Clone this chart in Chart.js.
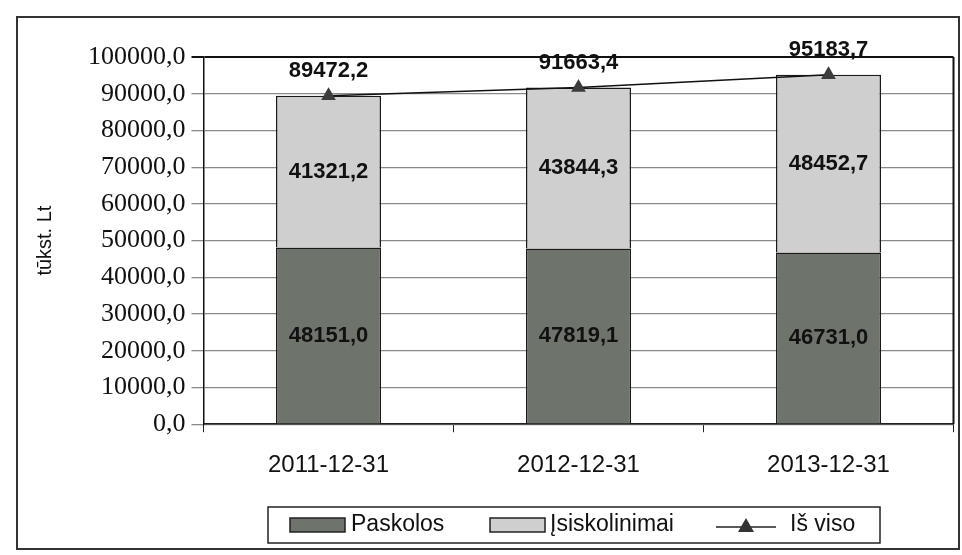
<!DOCTYPE html>
<html>
<head>
<meta charset="utf-8">
<script src="https://cdn.jsdelivr.net/npm/chart.js@4.4.0/dist/chart.umd.min.js"></script>
<style>
  html, body { margin: 0; padding: 0; background: #fff; }
  #frame {
    position: absolute; left: 16px; top: 16px;
    width: 940px; height: 530px;
    border: 2px solid #333;
  }
  #wrap { position: absolute; left: -18px; top: -18px; width: 962px; height: 555px; }
</style>
</head>
<body>
<div id="frame"><div id="wrap"><canvas id="myChart"></canvas></div></div>
<script>
// duomenys
const categories = ["2011-12-31", "2012-12-31", "2013-12-31"];
const paskolos = [48151.0, 47819.1, 46731.0];
const isiskolinimai = [41321.2, 43844.3, 48452.7];
const isViso = [89472.2, 91663.4, 95183.7];
const yTicks = [0, 10000, 20000, 30000, 40000, 50000, 60000, 70000, 80000, 90000, 100000];

const fmt = (v) => v.toFixed(1).replace(".", ",");

// reikšmių etiketės ant stulpelių ir virš taškų
const valueLabels = {
  id: "valueLabels",
  afterDatasetsDraw(chart) {
    const ctx = chart.ctx;
    ctx.save();
    ctx.font = "bold 22px 'Liberation Sans', Arial, sans-serif";
    ctx.fillStyle = "#111";
    ctx.textAlign = "center";
    ctx.textBaseline = "middle";
    chart.data.datasets.forEach((ds, i) => {
      const meta = chart.getDatasetMeta(i);
      meta.data.forEach((el, j) => {
        if (ds.type === "line") {
          ctx.fillText(fmt(ds.data[j]), el.x, el.y - 25);
        } else {
          ctx.fillText(fmt(ds.data[j]), el.x, (el.y + el.base) / 2);
        }
      });
    });
    ctx.restore();
  },
};

// dešinysis braižymo srities kraštas
const areaBorder = {
  id: "areaBorder",
  beforeDatasetsDraw(chart) {
    const { ctx, chartArea } = chart;
    ctx.save();
    ctx.strokeStyle = "#111";
    ctx.lineWidth = 2;
    ctx.beginPath();
    ctx.moveTo(chartArea.right, chartArea.top);
    ctx.lineTo(chartArea.right, chartArea.bottom);
    ctx.stroke();
    ctx.restore();
  },
};

// legenda su rėmeliu apačioje
const boxLegend = {
  id: "boxLegend",
  afterDraw(chart) {
    const ctx = chart.ctx;
    const x0 = 268, y0 = 507, w = 612, h = 36;
    ctx.save();
    ctx.strokeStyle = "#222";
    ctx.lineWidth = 1.5;
    ctx.strokeRect(x0, y0, w, h);
    ctx.font = "23px 'Liberation Sans', Arial, sans-serif";
    ctx.textBaseline = "middle";
    ctx.fillStyle = "#111";
    const cy = y0 + h / 2;
    // Paskolos
    ctx.fillStyle = "#6e736c";
    ctx.fillRect(290, cy - 7, 55, 14);
    ctx.strokeRect(290, cy - 7, 55, 14);
    ctx.fillStyle = "#111";
    ctx.fillText("Paskolos", 351, cy);
    // Įsiskolinimai
    ctx.fillStyle = "#cfcfcf";
    ctx.fillRect(490, cy - 7, 55, 14);
    ctx.strokeRect(490, cy - 7, 55, 14);
    ctx.fillStyle = "#111";
    ctx.fillText("Įsiskolinimai", 550, cy);
    // Iš viso
    ctx.beginPath();
    ctx.moveTo(716, cy + 2);
    ctx.lineTo(776, cy + 2);
    ctx.stroke();
    ctx.fillStyle = "#333";
    ctx.beginPath();
    ctx.moveTo(746, cy - 7);
    ctx.lineTo(754, cy + 7);
    ctx.lineTo(738, cy + 7);
    ctx.closePath();
    ctx.fill();
    ctx.fillStyle = "#111";
    ctx.fillText("Iš viso", 790, cy);
    ctx.restore();
  },
};

const ctx = document.querySelector("#myChart").getContext("2d");
const myChart = new Chart(ctx, {
  data: {
    labels: categories,
    datasets: [
      {
        type: "line",
        label: "Iš viso",
        data: isViso,
        stack: "total",
        borderColor: "#111",
        borderWidth: 1.5,
        pointStyle: "triangle",
        pointRadius: 7,
        pointBackgroundColor: "#3d3d3d",
        pointBorderColor: "#3d3d3d",
        order: 0,
      },
      {
        type: "bar",
        label: "Paskolos",
        data: paskolos,
        stack: "bars",
        backgroundColor: "#6e736c",
        borderColor: "#1a1a1a",
        borderWidth: 1.5,
        categoryPercentage: 1,
        barPercentage: 0.42,
        order: 1,
      },
      {
        type: "bar",
        label: "Įsiskolinimai",
        data: isiskolinimai,
        stack: "bars",
        backgroundColor: "#cfcfcf",
        borderColor: "#1a1a1a",
        borderWidth: 1.5,
        categoryPercentage: 1,
        barPercentage: 0.42,
        order: 1,
      },
    ],
  },
  options: {
    responsive: true,
    maintainAspectRatio: false,
    animation: false,
    layout: { padding: { left: 33, right: 8, top: 57, bottom: 56 } },
    plugins: {
      legend: { display: false },
      tooltip: { enabled: false },
    },
    scales: {
      x: {
        stacked: true,
        grid: { display: true, drawOnChartArea: false, color: "#222", tickLength: 8, offset: true },
        border: { color: "#222", width: 1.5 },
        ticks: {
          color: "#111",
          font: { family: "'Liberation Sans', Arial, sans-serif", size: 24 },
          padding: 19,
        },
      },
      y: {
        stacked: true,
        min: 0,
        max: 100000,
        afterBuildTicks: (axis) => {
          axis.ticks = yTicks.map((v) => ({ value: v }));
        },
        grid: {
          color: (c) => (c.tick && c.tick.value === 100000 ? "#111" : "#8a8a8a"),
          lineWidth: (c) => (c.tick && c.tick.value === 100000 ? 2 : 1.3),
          tickLength: 12,
        },
        border: { color: "#111", width: 1.5 },
        ticks: {
          color: "#111",
          font: { family: "'Liberation Serif', 'Times New Roman', serif", size: 26 },
          padding: 6,
          callback: (v) => fmt(v),
        },
        title: {
          display: true,
          text: "tūkst. Lt",
          color: "#111",
          font: { family: "'Liberation Sans', Arial, sans-serif", size: 20 },
          padding: { top: 0, bottom: 25 },
        },
      },
    },
  },
  plugins: [valueLabels, areaBorder, boxLegend],
});
</script>
</body>
</html>
